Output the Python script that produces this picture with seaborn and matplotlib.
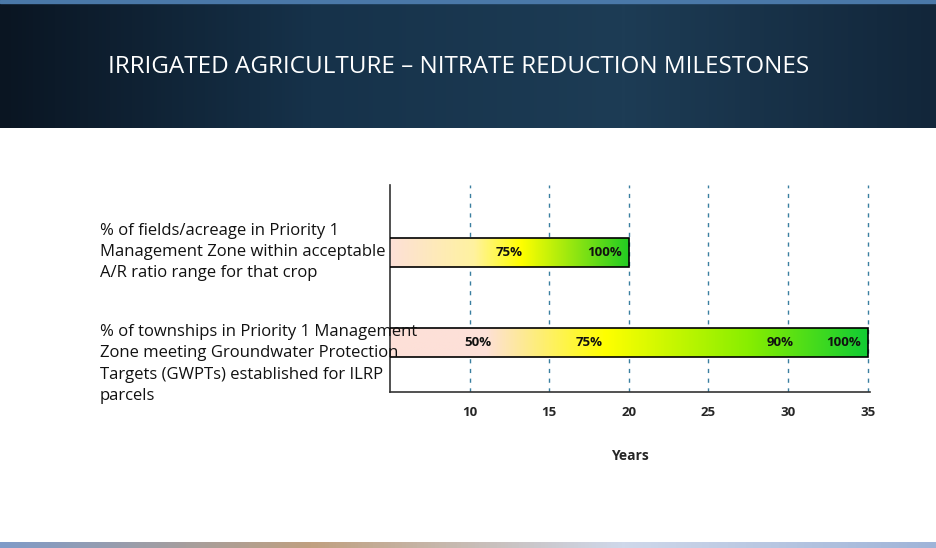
import numpy as np
import pandas as pd
import matplotlib
matplotlib.use("Agg")
import matplotlib.pyplot as plt
from matplotlib.colors import LinearSegmentedColormap
import seaborn as sns

# --- data ---
measures = [
    "% of fields/acreage in Priority 1\nManagement Zone within acceptable\nA/R ratio range for that crop",
    "% of townships in Priority 1 Management\nZone meeting Groundwater Protection\nTargets (GWPTs) established for ILRP\nparcels",
]
start_year = [5, 5]
end_year = [20, 35]
milestone_years = [[12.5, 18.5], [10.5, 17.5, 29.5, 33.5]]
milestone_labels = [["75%", "100%"], ["50%", "75%", "90%", "100%"]]
ticks = [10, 15, 20, 25, 30, 35]

sns.set_theme(style="white")
plt.rcParams["font.family"] = ["Open Sans", "DejaVu Sans"]

fig = plt.figure(figsize=(9.36, 5.48), dpi=100)
fig.patch.set_facecolor("white")

# header band
hdr = fig.add_axes([0, 1 - 128 / 548, 1, 128 / 548])
hdr_cmap = LinearSegmentedColormap.from_list("hdr", ["#0a1522", "#16324a", "#1d3c55", "#12263a"])
grad = np.linspace(0, 1, 256).reshape(1, -1)
hdr.imshow(grad, aspect="auto", cmap=hdr_cmap, extent=[0, 1, 0, 1])
hdr.axhspan(0.975, 1.0, color="#4a78a8")
hdr.text(0.49, 0.48, "IRRIGATED AGRICULTURE – NITRATE REDUCTION MILESTONES",
         color="white", fontsize=17.5, ha="center", va="center")
hdr.set_xlim(0, 1); hdr.set_ylim(0, 1); hdr.axis("off")

# bottom strip
bot = fig.add_axes([0, 0, 1, 6 / 548])
bot.imshow(grad, aspect="auto", cmap=LinearSegmentedColormap.from_list(
    "b", ["#7f9bc8", "#c0a080", "#cfd8ea", "#9fb4d8"]), extent=[0, 1, 0, 1])
bot.axis("off")

# chart
ax = fig.add_axes([390 / 936, 1 - 392 / 548, (870 - 390) / 936, (392 - 185) / 548])
df = pd.DataFrame({"measure": measures, "end": end_year, "start": start_year})
sns.barplot(data=df, y="measure", x="end", orient="h", width=0.33, ax=ax)

bar_cmaps = [
    LinearSegmentedColormap.from_list("c1", [(0, "#fde0d8"), (0.35, "#fff2a0"), (0.55, "#ffff00"), (1, "#22cc22")]),
    LinearSegmentedColormap.from_list("c2", [(0, "#fde0d8"), (0.2, "#fde0d8"), (0.45, "#ffff00"), (0.75, "#88ee00"), (1, "#11cc33")]),
]
for i, patch in enumerate(ax.patches[:2]):
    y0 = patch.get_y(); h = patch.get_height()
    patch.set_facecolor("none")
    im = ax.imshow(grad, aspect="auto", cmap=bar_cmaps[i],
                   extent=[start_year[i], end_year[i], y0 + h, y0], zorder=2)
    im.set_clip_path(patch)
    patch.set_edgecolor("black"); patch.set_linewidth(1.2); patch.set_zorder(3)
    for xv, lab in zip(milestone_years[i], milestone_labels[i]):
        ax.text(xv, i, lab, ha="center", va="center", fontsize=9.5, fontweight="bold",
                color="#111111", zorder=4)
ax.set_xlim(5, 35.15)
ax.set_ylim(1.55, -0.75)

for t in ticks:
    ax.axvline(t, color="#3a7fa0", linestyle=(0, (3, 4)), linewidth=1, zorder=1)

ax.set_xticks(ticks)
ax.set_xticklabels([str(t) for t in ticks], fontsize=9.5, fontweight="bold")
ax.tick_params(axis="x", length=0, pad=10)
ax.set_yticks([])
ax.set_xlabel("Years", fontsize=10, fontweight="bold", labelpad=22)
ax.set_ylabel("")
for i, m in enumerate(measures):
    yfig = [1 - 252 / 548, 1 - 364 / 548][i]
    fig.text(100 / 936, yfig, m, fontsize=12, ha="left", va="center",
             linespacing=1.45, color="#111111")
for s in ["top", "right"]:
    ax.spines[s].set_visible(False)
for s in ["left", "bottom"]:
    ax.spines[s].set_color("#333333"); ax.spines[s].set_linewidth(1.2)

fig.savefig("out.png", dpi=100)
